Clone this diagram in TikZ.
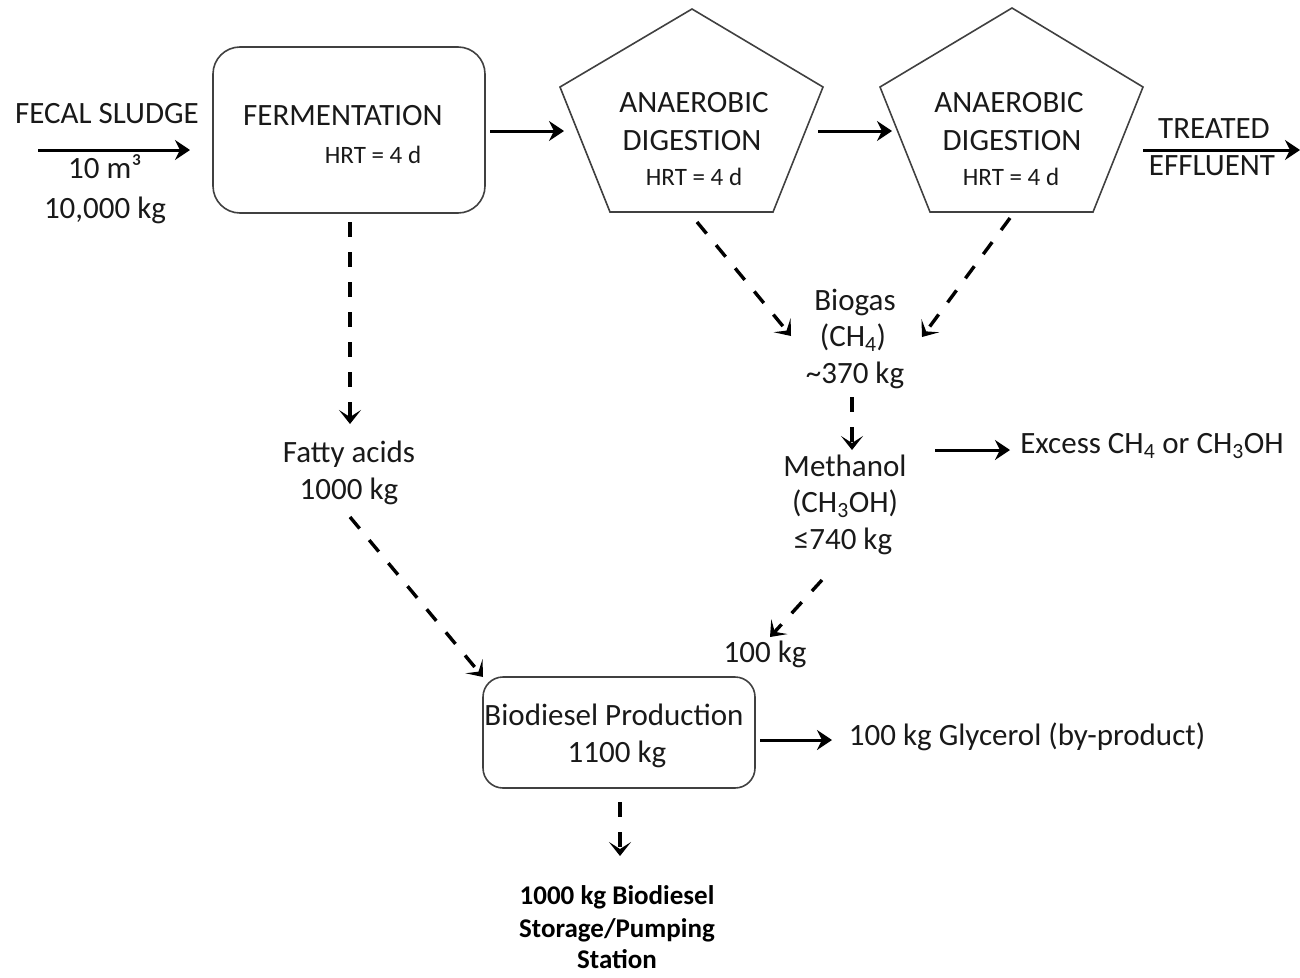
\documentclass[tikz,border=0pt]{standalone}
\usepackage{fontspec}
\setmainfont{Carlito}
\usetikzlibrary{arrows.meta}
\newcommand\bodyfs{\fontsize{31}{37}\selectfont}
\newcommand\hrtfs{\fontsize{25}{28}\selectfont}
\newcommand\notefs{\bfseries\fontsize{27}{33}\selectfont}
\begin{document}
\begin{tikzpicture}[x=1pt,y=-1pt,
  txt/.style={font=\bodyfs,inner sep=0pt,anchor=base,text=black!90},
  hrt/.style={font=\hrtfs,inner sep=0pt,anchor=base,text=black!90},
  note/.style={font=\notefs,inner sep=0pt,anchor=base,text=black},
  boxline/.style={draw=black!75,line width=1.6pt},
  flow/.style={line width=3pt,-{Stealth[length=15pt,width=20pt,inset=5pt]}},
  dflow/.style={line width=3.4pt,dash pattern=on 15pt off 15pt,
    -{Stealth[length=14pt,width=22pt,inset=7pt]}}]
\useasboundingbox (0,0) rectangle (1300,977);

% process boxes
\node[boxline,rounded corners=27pt,minimum width=272pt,minimum height=166pt] (ferm) at (349,130) {};
\node[boxline,rounded corners=20pt,minimum width=272pt,minimum height=111pt] (bdp) at (619,732.5) {};

% digester outlines
\coordinate (p1t) at (692,9);   \coordinate (p1r) at (823,87);
\coordinate (p1br) at (773,212); \coordinate (p1bl) at (610,212);
\coordinate (p1l) at (560,87);
\coordinate (p2t) at (1012,8);  \coordinate (p2r) at (1143,87);
\coordinate (p2br) at (1093,212); \coordinate (p2bl) at (930,212);
\coordinate (p2l) at (880,87);
\draw[boxline,line join=miter] (p1t) -- (p1r) -- (p1br) -- (p1bl) -- (p1l) -- cycle;
\draw[boxline,line join=miter] (p2t) -- (p2r) -- (p2br) -- (p2bl) -- (p2l) -- cycle;

% labels
\node[txt] (fs) at (107,123) {FECAL SLUDGE};
\node[txt] (fsv) at (105,178) {10 m³};
\node[txt] (fsm) at (105,218) {10,000 kg};
\node[txt] (fermt) at (343,125) {FERMENTATION};
\node[hrt] (fermh) at (373,163) {HRT = 4 d};
\node[txt] (ad1a) at (694,112) {ANAEROBIC};
\node[txt] (ad1b) at (692,150) {DIGESTION};
\node[hrt] (ad1h) at (694,185) {HRT = 4 d};
\node[txt] (ad2a) at (1009,112) {ANAEROBIC};
\node[txt] (ad2b) at (1012,150) {DIGESTION};
\node[hrt] (ad2h) at (1011,185) {HRT = 4 d};
\node[txt] (te1) at (1214,138) {TREATED};
\node[txt] (te2) at (1212,175) {EFFLUENT};
\node[txt] (bg1) at (855,310) {Biogas};
\node[txt] (bg2) at (853,346) {(CH\textsubscript{4})};
\node[txt] (bg3) at (855,383) {\textasciitilde370 kg};
\node[txt] (me1) at (845,476) {Methanol};
\node[txt] (me2) at (845,512) {(CH\textsubscript{3}OH)};
\node[txt] (me3) at (843,549) {≤740 kg};
\node[txt] (ex) at (1152,453) {Excess CH\textsubscript{4} or CH\textsubscript{3}OH};
\node[txt] (fa1) at (349,462) {Fatty acids};
\node[txt] (fa2) at (349,499) {1000 kg};
\node[txt] (mk) at (765,662) {100 kg};
\node[txt] (bd1) at (614,725) {Biodiesel Production};
\node[txt] (bd2) at (617,762) {1100 kg};
\node[txt] (gly) at (1027,745) {100 kg Glycerol (by-product)};
\node[note] (st1) at (617,904) {1000 kg Biodiesel};
\node[note] (st2) at (617,937) {Storage/Pumping};
\node[note] (st3) at (617,968) {Station};

% connector end points
\coordinate (a0) at (38,150);   \coordinate (a1) at (190,150);
\coordinate (b0) at (490,131);  \coordinate (b1) at (564,131);
\coordinate (c0) at (818,131);  \coordinate (c1) at (892,131);
\coordinate (d0) at (1143,150); \coordinate (d1) at (1300,150);
\coordinate (e0) at (350,222);  \coordinate (e1) at (350,424);
\coordinate (f0) at (697,222);  \coordinate (f1) at (791,336);
\coordinate (g0) at (1010,218); \coordinate (g1) at (922,337);
\coordinate (h0) at (852,397);  \coordinate (h1) at (852,450);
\coordinate (i0) at (935,450);  \coordinate (i1) at (1010,450);
\coordinate (j0) at (350,517);  \coordinate (j1) at (483,677);
\coordinate (k0) at (822,580);  \coordinate (k1) at (770,637);
\coordinate (l0) at (760,740);  \coordinate (l1) at (832,740);
\coordinate (m0) at (620,802);  \coordinate (m1) at (620,856);

% solid flows
\draw[flow] (a0) -- (a1);
\draw[flow] (b0) -- (b1);
\draw[flow] (c0) -- (c1);
\draw[flow] (d0) -- (d1);
\draw[flow] (i0) -- (i1);
\draw[flow] (l0) -- (l1);
% dashed flows
\draw[dflow] (e0) -- (e1);
\draw[dflow] (f0) -- (f1);
\draw[dflow] (g0) -- (g1);
\draw[dflow] (h0) -- (h1);
\draw[dflow] (j0) -- (j1);
\draw[dflow] (k0) -- (k1);
\draw[dflow] (m0) -- (m1);
\end{tikzpicture}
\end{document}
